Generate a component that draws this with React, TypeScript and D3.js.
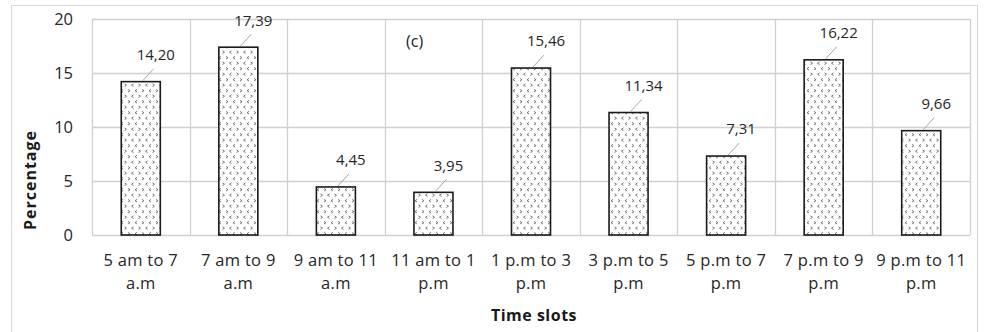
import React, { useEffect, useRef } from "react";
import * as d3 from "d3";

const categories = [
  ["5 am to 7", "a.m"],
  ["7 am to 9", "a.m"],
  ["9 am to 11", "a.m"],
  ["11 am to 1", "p.m"],
  ["1 p.m to 3", "p.m"],
  ["3 p.m to 5", "p.m"],
  ["5 p.m to 7", "p.m"],
  ["7 p.m to 9", "p.m"],
  ["9 p.m to 11", "p.m"],
];
const percentages = [14.2, 17.39, 4.45, 3.95, 15.46, 11.34, 7.31, 16.22, 9.66];
const yTicks = [0, 5, 10, 15, 20];

const FONT = "'Open Sans', sans-serif";

const App = () => {
  const svgRef = useRef<SVGSVGElement>(null);

  useEffect(() => {
    const width = 986;
    const height = 332;
    const margin = { top: 19, right: 16, bottom: 97, left: 92 };

    const svg = d3.select(svgRef.current).attr("width", width).attr("height", height);
    svg.selectAll("*").remove();

    // hatch pattern: little chevrons
    const defs = svg.append("defs");
    const pat = defs
      .append("pattern")
      .attr("id", "chev")
      .attr("patternUnits", "userSpaceOnUse")
      .attr("width", 14)
      .attr("height", 11);
    pat.append("rect").attr("width", 14).attr("height", 11).attr("fill", "#fff");
    const chev = (x: number, y: number, right: boolean) =>
      right
        ? `M${x - 1},${y - 1.3}L${x + 1},${y}L${x - 1},${y + 1.3}`
        : `M${x + 1},${y - 1.3}L${x - 1},${y}L${x + 1},${y + 1.3}`;
    pat
      .append("path")
      .attr(
        "d",
        [chev(3, 2.7, true), chev(10, 2.7, false), chev(6.5, 8.2, false), chev(13.5, 8.2, true), chev(-0.5, 8.2, true)].join("")
      )
      .attr("fill", "none")
      .attr("stroke", "#555")
      .attr("stroke-width", 0.8);

    // outer frame
    svg
      .append("rect")
      .attr("x", 11.5)
      .attr("y", 5.5)
      .attr("width", 966)
      .attr("height", 340)
      .attr("fill", "none")
      .attr("stroke", "#d9d9d9");

    const x = d3
      .scaleBand<number>()
      .domain(d3.range(categories.length))
      .range([margin.left, width - margin.right])
      .paddingInner(0.6)
      .paddingOuter(0.3);

    const y = d3
      .scaleLinear()
      .domain([0, 20])
      .range([height - margin.bottom, margin.top]);

    const step = x.step();
    const g = svg.append("g");

    // horizontal grid
    g.selectAll("line.h")
      .data(yTicks)
      .enter()
      .append("line")
      .attr("x1", margin.left)
      .attr("x2", width - margin.right)
      .attr("y1", (d) => Math.round(y(d)) + 0.5)
      .attr("y2", (d) => Math.round(y(d)) + 0.5)
      .attr("stroke", "#d0d0d0")
      .attr("stroke-width", 1.3);

    // vertical grid at category boundaries
    const bounds = d3.range(categories.length + 1).map((i) => margin.left + i * step);
    g.selectAll("line.v")
      .data(bounds)
      .enter()
      .append("line")
      .attr("x1", (d) => Math.round(d) + 0.5)
      .attr("x2", (d) => Math.round(d) + 0.5)
      .attr("y1", y(20))
      .attr("y2", y(0))
      .attr("stroke", "#d0d0d0")
      .attr("stroke-width", 1.3);

    // y tick labels
    g.selectAll("text.yt")
      .data(yTicks)
      .enter()
      .append("text")
      .attr("x", 73)
      .attr("y", (d) => y(d))
      .attr("dy", "0.36em")
      .attr("text-anchor", "end")
      .attr("font-family", FONT)
      .attr("font-size", 16.5)
      .attr("fill", "#262626")
      .text((d) => d);

    // bars
    g.selectAll("rect.bar")
      .data(percentages)
      .enter()
      .append("rect")
      .attr("x", (d, i) => x(i)!)
      .attr("y", (d) => y(d))
      .attr("width", x.bandwidth())
      .attr("height", (d) => y(0) - y(d))
      .attr("fill", "url(#chev)")
      .attr("stroke", "#1a1a1a")
      .attr("stroke-width", 1.6);

    // leader lines + value labels
    const cx = (i: number) => x(i)! + x.bandwidth() / 2;
    g.selectAll("line.lead")
      .data(percentages)
      .enter()
      .append("line")
      .attr("x1", (d, i) => cx(i) + 2)
      .attr("y1", (d) => y(d) - 1)
      .attr("x2", (d, i) => cx(i) + 13)
      .attr("y2", (d) => y(d) - 13)
      .attr("stroke", "#a6a6a6")
      .attr("stroke-width", 1);

    g.selectAll("text.val")
      .data(percentages)
      .enter()
      .append("text")
      .attr("x", (d, i) => cx(i) + 15)
      .attr("y", (d) => y(d) - 27)
      .attr("dy", "0.36em")
      .attr("text-anchor", "middle")
      .attr("font-family", FONT)
      .attr("font-size", 15)
      .attr("fill", "#262626")
      .text((d) => d.toFixed(2).replace(".", ","));

    // x category labels
    const xl = g
      .selectAll("text.xl")
      .data(categories)
      .enter()
      .append("text")
      .attr("text-anchor", "middle")
      .attr("font-family", FONT)
      .attr("font-size", 16.5)
      .attr("letter-spacing", 0.3)
      .attr("fill", "#262626");
    xl.append("tspan")
      .attr("x", (d, i) => cx(i))
      .attr("y", 266)
      .text((d) => d[0]);
    xl.append("tspan")
      .attr("x", (d, i) => cx(i))
      .attr("y", 289)
      .text((d) => d[1]);

    // panel tag
    svg
      .append("text")
      .attr("x", 406)
      .attr("y", 47)
      .attr("font-family", FONT)
      .attr("font-size", 16)
      .attr("fill", "#1a1a1a")
      .text("(c)");

    // axis titles
    svg
      .append("text")
      .attr("transform", "translate(30,180) rotate(-90)")
      .attr("dy", "0.36em")
      .attr("text-anchor", "middle")
      .attr("font-family", FONT)
      .attr("font-size", 16)
      .attr("font-weight", "bold")
      .attr("letter-spacing", 1)
      .attr("fill", "#1a1a1a")
      .text("Percentage");

    svg
      .append("text")
      .attr("x", (margin.left + width - margin.right) / 2 + 3)
      .attr("y", 315)
      .attr("dy", "0.36em")
      .attr("text-anchor", "middle")
      .attr("font-family", FONT)
      .attr("font-size", 16)
      .attr("font-weight", "bold")
      .attr("letter-spacing", 0.5)
      .attr("fill", "#1a1a1a")
      .text("Time slots");
  }, []);

  return <svg ref={svgRef} style={{ position: "absolute", left: 0, top: 0 }}></svg>;
};

export default App;
